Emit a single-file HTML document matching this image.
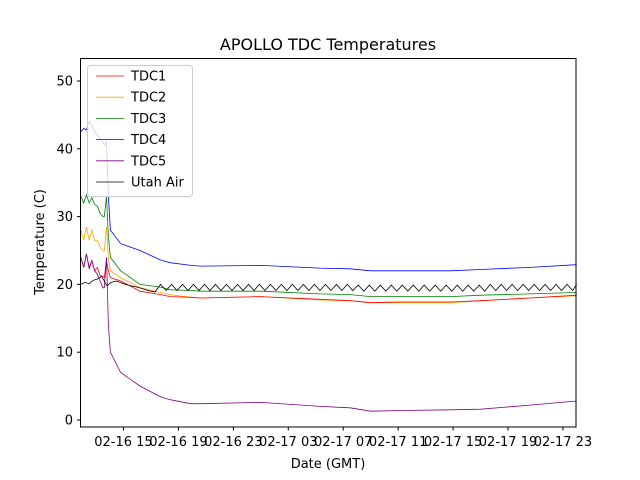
<!DOCTYPE html>
<html><head><meta charset="utf-8"><style>
body{margin:0;background:#fff;}
svg{display:block;font-family:"DejaVu Sans","Liberation Sans",sans-serif;}
</style></head><body>
<svg id="chart" width="640" height="480" viewBox="0 0 640 480">
<rect x="0" y="0" width="640" height="480" fill="#fff"/>
<text x="328" y="50" font-size="16" text-anchor="middle">APOLLO TDC Temperatures</text>
<text x="328" y="468" font-size="13" text-anchor="middle">Date (GMT)</text>
<text transform="translate(44,242) rotate(-90)" font-size="13" text-anchor="middle">Temperature (C)</text>
<g id="series"></g>
<g id="axes"></g>
<rect x="80.5" y="58.5" width="495.5" height="368.5" fill="none" stroke="#000" stroke-width="1"/>
<g id="legend">
<rect x="87.5" y="65.5" width="105" height="131" rx="3" fill="#fff" fill-opacity="0.8" stroke="#ccc"/>
</g>
</svg>
<script>
const xTickHours = [15,19,23,27,31,35,39,43,47];
const xTickLabels = ["02-16 15","02-16 19","02-16 23","02-17 03","02-17 07","02-17 11","02-17 15","02-17 19","02-17 23"];
const yTicks = [0,10,20,30,40,50];
const seriesNames = ["TDC1","TDC2","TDC3","TDC4","TDC5","Utah Air"];
const seriesColors = ["#ff0000","#ffa500","#008000","#0000ff","#800080","#000000"];
const t1 = [11.9,12.1,12.3,12.5,12.7,12.9,13.1,13.3,13.5,13.6,13.76,13.9,14.05,14.8,16.2,17.7,18.4,19.9,20.6,25,29.3,31.5,33,35.1,38.8,41,44.6,48];
const tdc1 = [24,22.5,24.5,22.3,23.5,22,22.5,21.3,21.2,21,23.5,22,21,20.5,19,18.5,18.2,18.1,18,18.2,17.8,17.6,17.3,17.4,17.4,17.6,18,18.4];
const tdc2 = [28,26.5,28.5,26.5,28,26.5,26.5,25.5,25,25,28.5,24,22,21,19.5,18.8,18.5,18.1,18,18.2,17.7,17.6,17.3,17.3,17.3,17.6,18,18.3];
const tdc3 = [33,32,33.2,32,32.8,31.8,31.5,30.5,30,30,33,27,24,22,20,19.6,19.2,19.1,19,19,18.6,18.5,18.2,18.2,18.2,18.4,18.6,18.8];
const tdc4 = [42.5,43,42.8,44,43.5,42.5,42,41.5,41,40.5,41,33,28,26,25,23.6,23.2,22.8,22.7,22.8,22.4,22.3,22,22,22,22.2,22.5,22.9];
const tdc5 = [24,22.5,24.5,22.5,23.5,22,21.5,20.5,19.5,19.5,24,14,10,7,5,3.4,3,2.4,2.4,2.6,2,1.8,1.3,1.4,1.5,1.6,2.2,2.8];
const airTimes = [11.9,12.2,12.5,12.8,13.1,13.4,13.6,13.8,14.1,14.5,15,15.5,16,16.5,17,17.3,
17.7,18.1,18.5,18.9,19.3,19.7,20.1,20.5,20.9,21.3,21.7,22.1,22.5,22.9,23.3,23.7,24.1,24.5,24.9,25.3,25.7,26.1,26.5,26.9,27.3,27.7,28.1,28.5,28.9,29.3,29.7,30.1,30.5,30.9,31.3,31.7,32.1,32.5,32.9,33.3,33.7,34.1,34.5,34.9,35.3,35.7,36.1,36.5,36.9,37.3,37.7,38.1,38.5,38.9,39.3,39.7,40.1,40.5,40.9,41.3,41.7,42.1,42.5,42.9,43.3,43.7,44.1,44.5,44.9,45.3,45.7,46.1,46.5,46.9,47.3,47.7,48];
const airVals = [20,20.3,20.1,20.6,20.8,21.2,20.5,19.8,20.3,20.5,20.1,19.8,19.6,19.3,19,18.9,
20,19.1,20,19.1,20,19.1,20,19.1,20,19.1,20,19.1,20,19.1,20,19.1,20,19.1,20,19.1,20,19.1,20,19.1,20,19.1,20,19.1,20,19.1,20,19.1,20,19.1,20,19.1,19.9,19,19.9,19,19.9,19,19.9,19,19.9,19,19.9,19,19.9,19,19.9,19,19.9,19,19.9,19,19.9,19,19.9,19,20,19.1,20,19.1,20,19.1,20,19.1,20,19.1,20,19.1,20,19.1,20,19.1,20];

const NS="http://www.w3.org/2000/svg";
const X0=80.5,X1=576,H0=11.87,H1=47.95;
const Y0=420,PXU=6.78;
function xs(h){return X0+(h-H0)/(H1-H0)*(X1-X0);}
function ys(v){return Y0-v*PXU;}
function mk(tag,attrs,parent){const e=document.createElementNS(NS,tag);for(const k in attrs)e.setAttribute(k,attrs[k]);parent.appendChild(e);return e;}
const axes=document.getElementById('axes');
xTickHours.forEach((h,i)=>{
  const l=mk('line',{x1:xs(h),x2:xs(h),y1:427,y2:430.5,stroke:'#000'},axes);
  
  
  const t=mk('text',{x:xs(h),y:446,'font-size':13,'text-anchor':'middle'},axes);
  t.textContent=xTickLabels[i];
  
  
});
yTicks.forEach(v=>{
  const l=mk('line',{x1:77,x2:80.5,y1:ys(v),y2:ys(v),stroke:'#000'},axes);
  
  
  const t=mk('text',{x:73,y:ys(v)+4.5,'font-size':13,'text-anchor':'end'},axes);
  t.textContent=v;
  
  
});
const sg=document.getElementById('series');
const allVals=[tdc1,tdc2,tdc3,tdc4,tdc5];
function drawLine(times,vals,color,name){
  const d=times.map((h,i)=>(i?'L':'M')+xs(h).toFixed(1)+' '+ys(vals[i]).toFixed(1)).join(' ');
  const p=mk('path',{d:d,fill:'none',stroke:color,'stroke-width':0.8},sg);
  
  
}
[1,0,2,3,4].forEach(i=>drawLine(t1,allVals[i],seriesColors[i],'series-'+seriesNames[i].toLowerCase()));
drawLine(airTimes,airVals,seriesColors[5],'series-utah-air');
const lg=document.getElementById('legend');
seriesNames.forEach((n,i)=>{
  const y=76+i*21.2;
  const l=mk('line',{x1:96,x2:124,y1:y,y2:y,stroke:seriesColors[i],'stroke-width':0.8},lg);
  
  
  const t=mk('text',{x:131,y:y+4.5,'font-size':13},lg);
  t.textContent=n;
  
  
});
</script>
</body></html>
